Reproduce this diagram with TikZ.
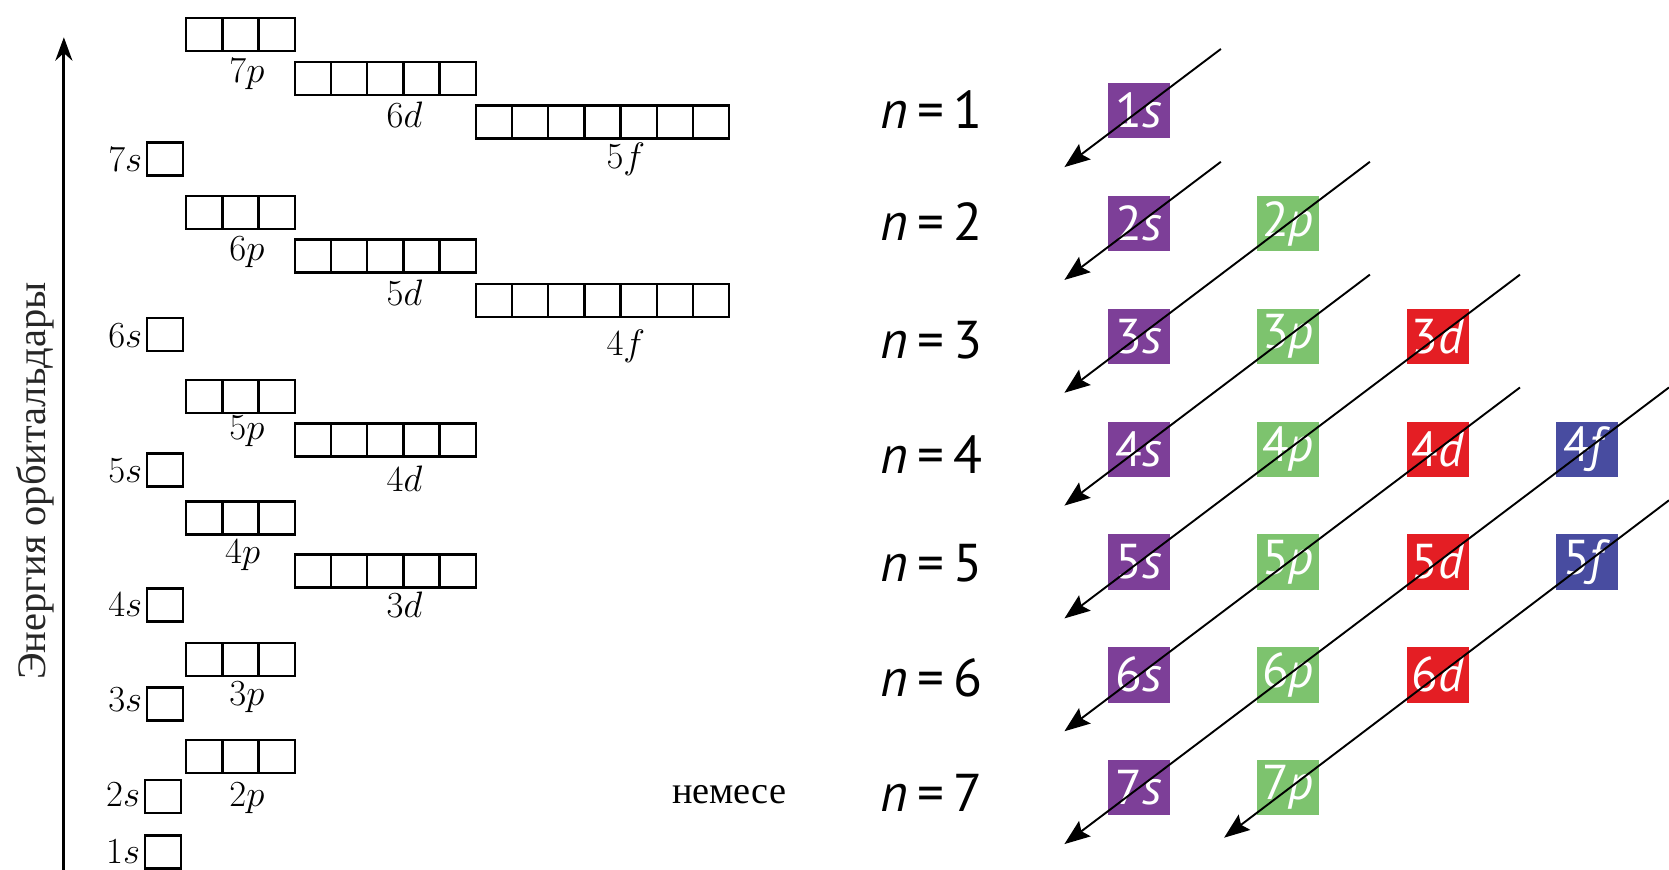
\documentclass[tikz,border=0pt]{standalone}
\usepackage{fontspec}
\newfontfamily\cyr{Liberation Serif}
\newfontfamily\sfn{PT Sans}
\usetikzlibrary{arrows.meta,calc}
\definecolor{sP}{RGB}{125,63,152}
\definecolor{pG}{RGB}{125,195,110}
\definecolor{dR}{RGB}{228,30,36}
\definecolor{fB}{RGB}{72,76,160}
\newcommand\orbrow[4]{%
  \foreach \i in {1,...,#4} {\draw[orbline] ({#2+34*(\i-1)},#3) rectangle ++(34,31);}%
  \coordinate (#1) at (#2,#3);}
\begin{document}
\begin{tikzpicture}[x=0.5pt,y=-0.5pt,
  orbline/.style={line width=1.1pt},
  olab/.style={font=\fontsize{19}{22}\selectfont, inner sep=0pt},
  qbox/.style={minimum width=29pt, minimum height=26pt, inner sep=0pt, text=white,
    font=\sfn\fontsize{23}{23}\selectfont},
  nlab/.style={font=\sfn\fontsize{25}{25}\selectfont, inner sep=0pt},
  diag/.style={line width=0.9pt, -{Stealth[length=12pt,width=9pt,inset=2pt]}}]
\useasboundingbox (0,0) rectangle (1568,817);
% energy axis
\coordinate (axb) at (60,817);
\coordinate (axt) at (60,35);
\draw[line width=1.5pt, -{Stealth[length=11pt,width=8pt]}] (axb) -- (axt);
\node[rotate=90, font=\cyr\fontsize{19}{19}\selectfont, text=black!85, inner sep=0pt] (ylab) at (33,452) {Энергия орбитальдары};
% orbital boxes
\orbrow{b7p}{175}{17}{3}
\orbrow{b6d}{277}{58}{5}
\orbrow{b5f}{447}{99}{7}
\orbrow{b7s}{138}{134}{1}
\orbrow{b6p}{175}{184}{3}
\orbrow{b5d}{277}{225}{5}
\orbrow{b4f}{447}{267}{7}
\orbrow{b6s}{138}{299}{1}
\orbrow{b5p}{175}{357}{3}
\orbrow{b4d}{277}{398}{5}
\orbrow{b5s}{138}{426}{1}
\orbrow{b4p}{175}{471}{3}
\orbrow{b3d}{277}{521}{5}
\orbrow{b4s}{138}{553}{1}
\orbrow{b3p}{175}{604}{3}
\orbrow{b3s}{138}{646}{1}
\orbrow{b2p}{175}{695}{3}
\orbrow{b2s}{136}{733}{1}
\orbrow{b1s}{136}{785}{1}
% orbital labels
\node[olab] (l7p) at (232,70) {$7p$};
\node[olab] (l6d) at (380,108) {$6d$};
\node[olab] (l5f) at (588,150) {$5f$};
\node[olab, anchor=east] (l7s) at (134,150) {$7s$};
\node[olab] (l6p) at (232,237) {$6p$};
\node[olab] (l5d) at (380,275) {$5d$};
\node[olab] (l4f) at (588,325) {$4f$};
\node[olab, anchor=east] (l6s) at (134,315) {$6s$};
\node[olab] (l5p) at (232,405) {$5p$};
\node[olab] (l4d) at (380,450) {$4d$};
\node[olab, anchor=east] (l5s) at (134,442) {$5s$};
\node[olab] (l4p) at (228,522) {$4p$};
\node[olab] (l3d) at (380,568) {$3d$};
\node[olab, anchor=east] (l4s) at (134,568) {$4s$};
\node[olab] (l3p) at (232,655) {$3p$};
\node[olab, anchor=east] (l3s) at (134,657) {$3s$};
\node[olab] (l2p) at (232,750) {$2p$};
\node[olab, anchor=east] (l2s) at (132,747) {$2s$};
\node[olab, anchor=east] (l1s) at (132,800) {$1s$};
\node[font=\cyr\fontsize{18}{18}\selectfont, inner sep=0pt] (nem) at (685,747) {немесе};
% n labels
\node[nlab] (n1) at (875,103) {\textit{n}\,=\,1};
\node[nlab] (n2) at (875,208) {\textit{n}\,=\,2};
\node[nlab] (n3) at (875,320) {\textit{n}\,=\,3};
\node[nlab] (n4) at (875,427) {\textit{n}\,=\,4};
\node[nlab] (n5) at (875,529) {\textit{n}\,=\,5};
\node[nlab] (n6) at (875,637) {\textit{n}\,=\,6};
\node[nlab] (n7) at (875,745) {\textit{n}\,=\,7};
% sub-shell squares
\node[qbox, fill=sP] (s1) at (1070,104) {1\textit{s}};
\node[qbox, fill=sP] (s2) at (1070,210) {2\textit{s}};
\node[qbox, fill=sP] (s3) at (1070,316) {3\textit{s}};
\node[qbox, fill=sP] (s4) at (1070,422) {4\textit{s}};
\node[qbox, fill=sP] (s5) at (1070,528) {5\textit{s}};
\node[qbox, fill=sP] (s6) at (1070,634) {6\textit{s}};
\node[qbox, fill=sP] (s7) at (1070,740) {7\textit{s}};
\node[qbox, fill=pG] (p2) at (1210,210) {2\textit{p}};
\node[qbox, fill=pG] (p3) at (1210,316) {3\textit{p}};
\node[qbox, fill=pG] (p4) at (1210,422) {4\textit{p}};
\node[qbox, fill=pG] (p5) at (1210,528) {5\textit{p}};
\node[qbox, fill=pG] (p6) at (1210,634) {6\textit{p}};
\node[qbox, fill=pG] (p7) at (1210,740) {7\textit{p}};
\node[qbox, fill=dR] (d3) at (1351,316) {3\textit{d}};
\node[qbox, fill=dR] (d4) at (1351,422) {4\textit{d}};
\node[qbox, fill=dR] (d5) at (1351,528) {5\textit{d}};
\node[qbox, fill=dR] (d6) at (1351,634) {6\textit{d}};
\node[qbox, fill=fB] (f4) at (1491,422) {4\textit{f}};
\node[qbox, fill=fB] (f5) at (1491,528) {5\textit{f}};
% diagonal arrows
\draw[diag] ($(s1)+(77,-58)$) -- ($(s1)+(-70,53)$);
\draw[diag] ($(s2)+(77,-58)$) -- ($(s2)+(-70,53)$);
\draw[diag] ($(p2)+(77,-58)$) -- ($(s3)+(-70,53)$);
\draw[diag] ($(p3)+(77,-58)$) -- ($(s4)+(-70,53)$);
\draw[diag] ($(d3)+(77,-58)$) -- ($(s5)+(-70,53)$);
\draw[diag] ($(d4)+(77,-58)$) -- ($(s6)+(-70,53)$);
\draw[diag] ($(f4)+(77,-58)$) -- ($(s7)+(-70,53)$);
\draw[diag] ($(f5)+(77,-58)$) -- ($(p7)+(-60,47)$);
\end{tikzpicture}
\end{document}
